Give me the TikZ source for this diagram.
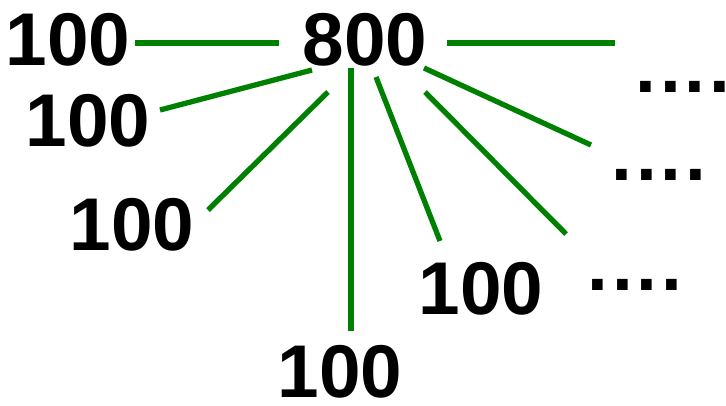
\documentclass[tikz,border=0pt]{standalone}
\usepackage{fontspec}
\setmainfont{Liberation Sans}
\usetikzlibrary{calc}
\definecolor{linkgreen}{RGB}{0,128,0}
\newcommand\dotrow{.\kern3.7bp.\kern3.7bp.\kern3.7bp.}
\tikzset{
  num/.style={inner sep=0pt, font=\bfseries\fontsize{75}{75}\selectfont},
  link/.style={linkgreen, line width=5.3pt},
}
\begin{document}
\begin{tikzpicture}[x=1bp, y=-1bp]
\useasboundingbox (0,0) rectangle (726,405);

\node[num] (n800) at (365,40) {800};
\node[num] (nA) at (68,40) {100};
\node[num] (nB) at (88,121) {100};
\node[num] (nC) at (132,225) {100};
\node[num] (nD) at (340,372) {100};
\node[num] (nE) at (481,289) {100};

\node[num] (d1) at (683,87) {\dotrow};
\node[num] (d2) at (659,175) {\dotrow};
\node[num] (d3) at (635,285) {\dotrow};

% left side
\draw[link]($(nA)+(67,3)$)--($(n800)+(-86,3)$);
\draw[link]($(nB)+(72,-11)$)--($(n800)+(-53,30)$);
\draw[link]($(nC)+(76,-15)$)--($(n800)+(-37,52)$);
\draw[link]($(nD)+(11,-41)$)--($(n800)+(-14,28)$);

% right side
\draw[link]($(n800)+(11,37)$)--($(nE)+(-41,-48)$);
\draw[link]($(n800)+(82,3)$)--($(d1)+(-68,-44)$);
\draw[link]($(n800)+(59,28)$)--($(d2)+(-68,-30)$);
\draw[link]($(n800)+(60,52)$)--($(d3)+(-69,-51)$);
\end{tikzpicture}
\end{document}
